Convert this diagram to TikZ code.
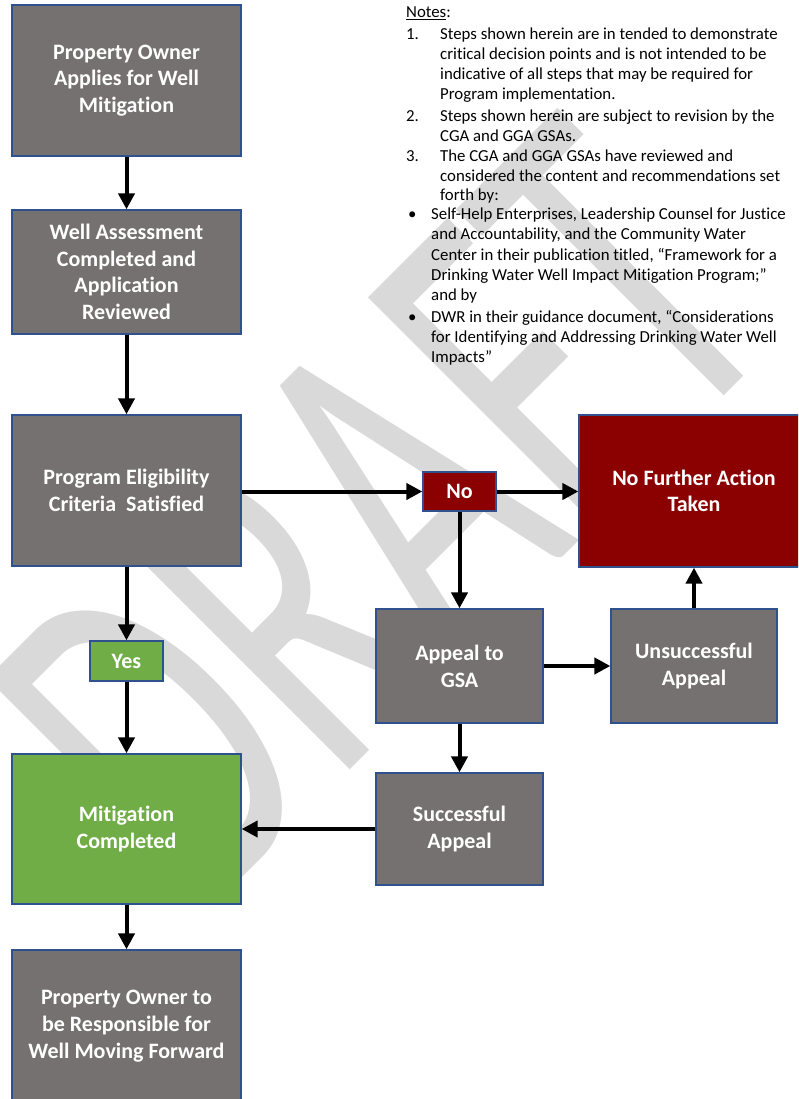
\documentclass[tikz,border=0pt]{standalone}
\usepackage{graphicx}
\usepackage{fontspec}
\setmainfont{Carlito}[Ligatures={NoCommon,NoRequired,NoContextual}]
\usetikzlibrary{arrows.meta}
\definecolor{boxgray}{HTML}{767171}
\definecolor{boxred}{HTML}{8B0000}
\definecolor{boxgreen}{HTML}{70AD47}
\definecolor{boxline}{HTML}{2F528F}
\definecolor{wm}{HTML}{D9D9D9}
\begin{document}
\begin{tikzpicture}[x=1pt,y=-1pt,
  box/.style={draw=boxline, line width=1.3pt, text=white, font=\fontsize{22}{26.7}\selectfont\bfseries, align=center, inner sep=0pt},
  graybox/.style={box, fill=boxgray},
  redbox/.style={box, fill=boxred},
  greenbox/.style={box, fill=boxgreen},
  arr/.style={line width=4pt, -{Triangle[length=16pt,width=16pt]}},
  note/.style={anchor=base west, inner sep=0pt, font=\fontsize{16.8}{20}\selectfont}
]
\useasboundingbox (0,0) rectangle (798,1099);
\clip (0,0) rectangle (798,1099);
\fill[white] (0,0) rectangle (798,1099);
% watermark
\node[rotate=45, text=wm, inner sep=0pt, font=\fontsize{500}{500}\selectfont] (wmk) at (380,513) {\scalebox{0.62}[1]{DRAFT}};
% notes
\node[note] (nh) at (406,18) {\underline{Notes}:};
\node[note] (n1a) at (406,40) {1.};
\node[note] (n1b) at (440,40) {Steps shown herein are in tended to demonstrate};
\node[note] (n1c) at (440,60) {critical decision points and is not intended to be};
\node[note] (n1d) at (440,80) {indicative of all steps that may be required for};
\node[note] (n1e) at (440,100) {Program implementation.};
\node[note] (n2a) at (406,122) {2.};
\node[note] (n2b) at (440,122) {Steps shown herein are subject to revision by the};
\node[note] (n2c) at (440,142) {CGA and GGA GSAs.};
\node[note] (n3a) at (406,162) {3.};
\node[note] (n3b) at (440,162) {The CGA and GGA GSAs have reviewed and};
\node[note] (n3c) at (440,182) {considered the content and recommendations set};
\node[note] (n3d) at (440,201) {forth by:};
\node[note] (n4a) at (408,220) {•};
\node[note] (n4b) at (431,220) {Self-Help Enterprises, Leadership Counsel for Justice};
\node[note] (n4c) at (431,240) {and Accountability, and the Community Water};
\node[note] (n4d) at (431,260) {Center in their publication titled,  “Framework for a};
\node[note] (n4e) at (431,280) {Drinking Water Well Impact Mitigation Program;”};
\node[note] (n4f) at (431,300) {and by};
\node[note] (n5a) at (408,322) {•};
\node[note] (n5b) at (431,322) {DWR in their guidance document, “Considerations};
\node[note] (n5c) at (431,342) {for Identifying and Addressing Drinking Water Well};
\node[note] (n5d) at (431,362) {Impacts”};
% boxes
\node[graybox, minimum width=229pt, minimum height=151pt] (b1) at (126.5,80.5) {Property Owner\\Applies for Well\\Mitigation};
\node[graybox, minimum width=229pt, minimum height=124pt] (b2) at (126.5,272) {Well Assessment\\Completed and\\Application\\Reviewed};
\node[graybox, minimum width=229pt, minimum height=151pt] (b3) at (126.5,490.5) {Program Eligibility\\Criteria\ \ Satisfied};
\node[redbox, minimum width=73pt, minimum height=39pt] (no) at (459.5,491.5) {No};
\node[redbox, minimum width=230pt, minimum height=152pt] (nfa) at (694,491) {No Further Action\\Taken};
\node[graybox, minimum width=167pt, minimum height=114pt] (ap) at (459.5,666) {Appeal to\\GSA};
\node[graybox, minimum width=166pt, minimum height=114pt] (un) at (694,666) {Unsuccessful\\Appeal};
\node[graybox, minimum width=167pt, minimum height=112pt] (su) at (459.5,829) {Successful\\Appeal};
\node[greenbox, minimum width=73pt, minimum height=40pt] (yes) at (126.5,661) {Yes};
\node[greenbox, minimum width=229pt, minimum height=150pt] (mit) at (126.5,829) {Mitigation\\Completed};
\node[graybox, minimum width=229pt, minimum height=152pt] (last) at (126.5,1026) {Property Owner to\\be Responsible for\\Well Moving Forward};
% arrows
\draw[arr] (b1.south) -- (b2.north);
\draw[arr] (b2.south) -- (b3.north);
\draw[arr] (no.west -| b3.east) -- (no.west);
\draw[arr] (no.east) -- (no.east -| nfa.west);
\draw[arr] (no.south) -- (ap.north);
\draw[arr] (ap.east) -- (un.west);
\draw[arr] (un.north) -- (un.north |- nfa.south);
\draw[arr] (ap.south) -- (su.north);
\draw[arr] (su.west) -- (mit.east);
\draw[arr] (b3.south) -- (yes.north);
\draw[arr] (yes.south) -- (mit.north);
\draw[arr] (mit.south) -- (last.north);
\end{tikzpicture}
\end{document}
